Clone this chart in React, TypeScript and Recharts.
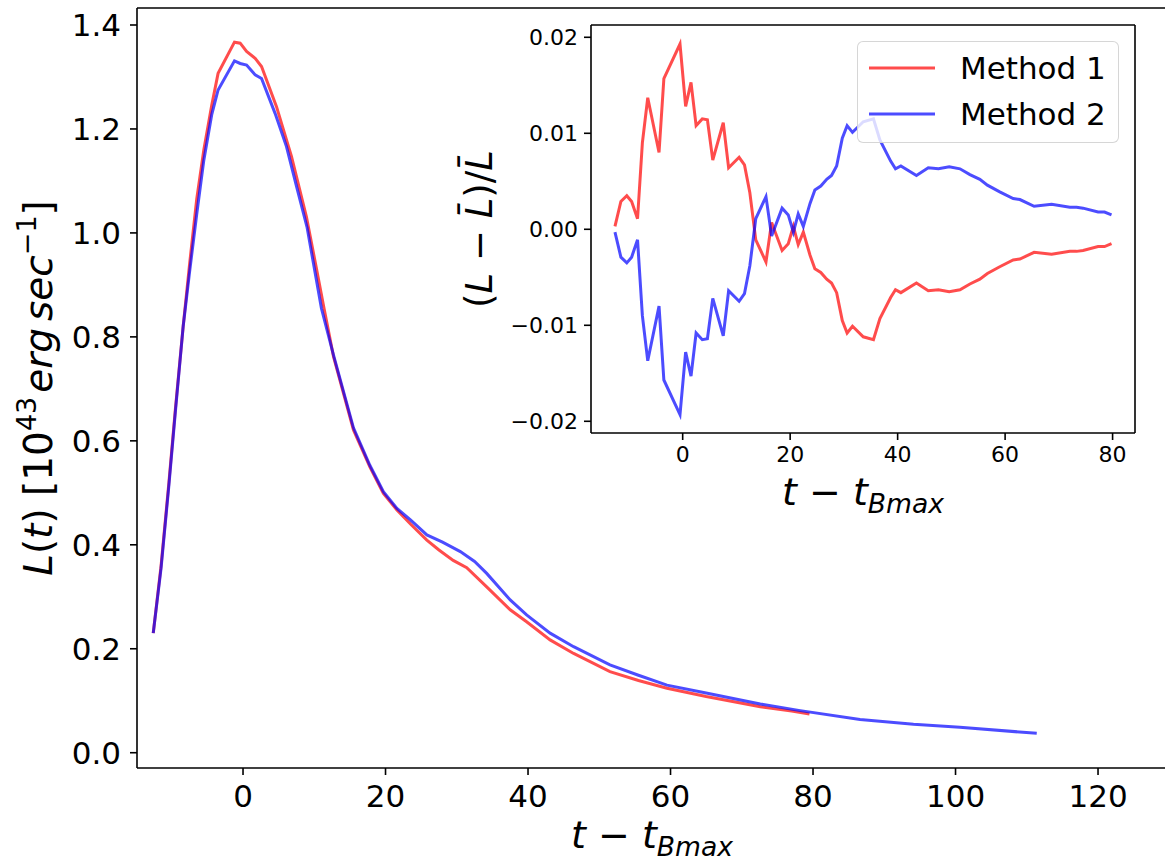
import { LineChart, Line, XAxis, YAxis, Legend, ReferenceLine } from "recharts";

// main panel: luminosity vs days from B max
const M1_T = [-12.6, -11.5, -10.4, -9.5, -8.4, -7.5, -6.5, -5.5, -4.4, -3.5, -1.2, -0.4, 0.5, 1.7, 2.6, 4.7, 6.8, 8.9, 10.3, 11.3, 12.7, 15.5, 17.8, 19.7, 21.6, 23.5, 25.8, 27.5, 29.5, 31.4, 34.2, 37.5, 39.8, 43.1, 46.4, 51.5, 55.5, 59.5, 65, 72.6, 77, 79.5];
const M1_L = [0.23, 0.36, 0.52, 0.66, 0.82, 0.94, 1.065, 1.16, 1.245, 1.307, 1.367, 1.365, 1.349, 1.336, 1.32, 1.243, 1.147, 1.031, 0.932, 0.86, 0.762, 0.621, 0.55, 0.499, 0.467, 0.44, 0.409, 0.39, 0.37, 0.356, 0.319, 0.275, 0.252, 0.217, 0.191, 0.156, 0.139, 0.124, 0.108, 0.0885, 0.08, 0.0745];

const M2_T = [-12.6, -11.5, -10.4, -9.5, -8.4, -7.5, -6.5, -5.5, -4.4, -3.5, -1.2, -0.4, 0.5, 1.7, 2.6, 4.5, 6.1, 7.5, 9, 11, 12.7, 15.5, 17.8, 19.7, 21.6, 23.5, 25.8, 28, 30.5, 32.5, 34.2, 37.5, 39.8, 43.1, 46.4, 51.5, 55.5, 59.5, 65, 72.6, 78.2, 86.6, 94.1, 100.6, 111.4];
const M2_L = [0.23, 0.355, 0.515, 0.655, 0.82, 0.925, 1.036, 1.14, 1.227, 1.275, 1.331, 1.326, 1.323, 1.304, 1.297, 1.23, 1.166, 1.09, 1.01, 0.855, 0.765, 0.625, 0.553, 0.502, 0.47, 0.448, 0.419, 0.405, 0.387, 0.368, 0.345, 0.294, 0.265, 0.23, 0.204, 0.169, 0.149, 0.13, 0.115, 0.0937, 0.081, 0.064, 0.0546, 0.0488, 0.0373];

// inset: relative deviation from the mean curve
const INSET_T = [-12.6, -11.5, -10.4, -9.5, -8.4, -7.5, -6.5, -4.4, -3.5, -0.5, 0.55, 1.55, 2.5, 3.65, 4.6, 5.6, 7.55, 8.55, 10.5, 11.5, 12.5, 13.6, 15.5, 16.55, 18.5, 19.65, 20.6, 21.5, 22.45, 23.7, 24.6, 25.7, 26.8, 27.7, 28.65, 29.7, 30.6, 31.6, 33.6, 35.5, 36.7, 38.7, 39.6, 40.6, 43.5, 45.7, 47.6, 49.6, 51.6, 53.45, 55.3, 56.7, 59.0, 61.5, 62.75, 65.4, 68.65, 72.05, 73.3, 74.5, 77.3, 78.5, 79.8];
const INSET_D1 = [0.0003, 0.0029, 0.0035, 0.0029, 0.0011, 0.009, 0.0137, 0.008, 0.0157, 0.0193, 0.0128, 0.0153, 0.0108, 0.0115, 0.0114, 0.0072, 0.0111, 0.0064, 0.0075, 0.0067, 0.0038, -0.0011, -0.0034, 0.0007, -0.0022, -0.0015, 0.0003, -0.0016, -0.0003, -0.0027, -0.0041, -0.0045, -0.0052, -0.0056, -0.0066, -0.0095, -0.0108, -0.0101, -0.0112, -0.0115, -0.0093, -0.0071, -0.0063, -0.0066, -0.0056, -0.0064, -0.0063, -0.0065, -0.0063, -0.0057, -0.0052, -0.0046, -0.0039, -0.0032, -0.0031, -0.0024, -0.0026, -0.0023, -0.0023, -0.0022, -0.0018, -0.0018, -0.0015];
const INSET_D2 = [-0.0003, -0.0029, -0.0035, -0.0029, -0.0011, -0.009, -0.0137, -0.008, -0.0157, -0.0193, -0.0128, -0.0153, -0.0108, -0.0115, -0.0114, -0.0072, -0.0111, -0.0064, -0.0075, -0.0067, -0.0038, 0.0011, 0.0034, -0.0007, 0.0022, 0.0015, -0.0003, 0.0016, 0.0003, 0.0027, 0.0041, 0.0045, 0.0052, 0.0056, 0.0066, 0.0095, 0.0108, 0.0101, 0.0112, 0.0115, 0.0093, 0.0071, 0.0063, 0.0066, 0.0056, 0.0064, 0.0063, 0.0065, 0.0063, 0.0057, 0.0052, 0.0046, 0.0039, 0.0032, 0.0031, 0.0024, 0.0026, 0.0023, 0.0023, 0.0022, 0.0018, 0.0018, 0.0015];

const MAIN_X_TICKS = [0, 20, 40, 60, 80, 100, 120];
const MAIN_Y_TICKS = [0, 0.2, 0.4, 0.6, 0.8, 1.0, 1.2, 1.4];
const INSET_X_TICKS = [0, 20, 40, 60, 80];
const INSET_Y_TICKS = [-0.02, -0.01, 0, 0.01, 0.02];
const SERIES_NAMES = ["Method 1", "Method 2"];

const MAIN_X_DOMAIN = [-14.88, 129.68];
const MAIN_Y_DOMAIN = [-0.0294, 1.4327];
const INSET_X_DOMAIN = [-17.06, 84.17];
const INSET_Y_DOMAIN = [-0.02122, 0.02128];

const zip = (xs: number[], ys: number[]) => xs.map((x, i) => ({ x, y: ys[i] }));
const main1 = zip(M1_T, M1_L);
const main2 = zip(M2_T, M2_L);
const inset1 = zip(INSET_T, INSET_D1);
const inset2 = zip(INSET_T, INSET_D2);

const FONT = "DejaVu Sans";
const RED = "#ff0000";
const BLUE = "#0000ff";
const axisStyle = { stroke: "#000", strokeWidth: 1.6 };
const minus = (s: string) => s.replace("-", "\u2212");

const MainYLabel = (props: any) => {
  const { viewBox } = props;
  const cx = viewBox.x + 52;
  const cy = viewBox.y + viewBox.height / 2;
  return (
    <text transform={`translate(${cx},${cy}) rotate(-90)`} textAnchor="middle" fontFamily={FONT} fontSize={39} fill="#000">
      <tspan fontStyle="italic">L</tspan>
      <tspan>(</tspan>
      <tspan fontStyle="italic">t</tspan>
      <tspan>) [10</tspan>
      <tspan fontSize={27} dy={-16}>43</tspan>
      <tspan fontStyle="italic" dy={16} dx={4}>erg</tspan>
      <tspan fontStyle="italic" dx={7}>sec</tspan>
      <tspan fontSize={27} dy={-16}>{"\u22121"}</tspan>
      <tspan dy={16}>]</tspan>
    </text>
  );
};

const TLabel = ({ viewBox, dyBase, size }: any) => (
  <text x={viewBox.x + viewBox.width / 2} y={viewBox.y + dyBase} textAnchor="middle" fontFamily={FONT} fontSize={size} fill="#000">
    <tspan fontStyle="italic">t</tspan>
    <tspan>{" \u2212 "}</tspan>
    <tspan fontStyle="italic">t</tspan>
    <tspan fontStyle="italic" fontSize={size * 0.7} dy={size * 0.2}>Bmax</tspan>
  </text>
);

const InsetYLabel = (props: any) => {
  const { viewBox } = props;
  const cx = viewBox.x + 52;
  const cy = viewBox.y + viewBox.height / 2;
  return (
    <text transform={`translate(${cx},${cy}) rotate(-90)`} textAnchor="middle" fontFamily={FONT} fontSize={37} fill="#000">
      <tspan>(</tspan>
      <tspan fontStyle="italic">L</tspan>
      <tspan>{" \u2212 "}</tspan>
      <tspan fontStyle="italic">{"L\u0304"}</tspan>
      <tspan>)/</tspan>
      <tspan fontStyle="italic">{"L\u0304"}</tspan>
    </text>
  );
};

const InsetLegend = ({ payload }: any) => (
  <div
    style={{
      width: 262,
      height: 102,
      boxSizing: "border-box",
      border: "1.6px solid rgba(204,204,204,0.8)",
      borderRadius: 6,
      background: "rgba(255,255,255,0.8)",
      position: "relative",
      fontFamily: FONT,
      fontSize: 31,
      color: "#000",
    }}
  >
    {(payload || []).map((p: any, i: number) => (
      <div key={i} style={{ position: "absolute", left: 11, top: 8 + i * 46, height: 36, display: "flex", alignItems: "center" }}>
        <svg width={66} height={4}>
          <line x1={0} y1={2} x2={66} y2={2} stroke={p.color} strokeWidth={3} strokeOpacity={0.7} />
        </svg>
        <span style={{ marginLeft: 25, whiteSpace: "nowrap" }}>{p.value}</span>
      </div>
    ))}
  </div>
);

export default function App() {
  return (
    <div style={{ position: "absolute", left: 0, top: 0, width: 1165, height: 867, overflow: "hidden", background: "#fff" }}>
      <div style={{ position: "absolute", left: 0, top: 0 }}>
        <LineChart width={1170} height={867} margin={{ top: 8, right: 3, bottom: 0, left: 0 }}>
          <XAxis
            type="number"
            dataKey="x"
            domain={MAIN_X_DOMAIN}
            ticks={MAIN_X_TICKS}
            allowDataOverflow
            height={99}
            tickSize={7}
            tickMargin={10}
            axisLine={axisStyle}
            tickLine={axisStyle}
            tick={{ fontSize: 31, fill: "#000", fontFamily: FONT }}
            label={(p: any) => <TLabel {...p} dyBase={80} size={38} />}
          />
          <YAxis
            type="number"
            domain={MAIN_Y_DOMAIN}
            ticks={MAIN_Y_TICKS}
            allowDataOverflow
            width={137}
            tickSize={7}
            tickMargin={9}
            axisLine={axisStyle}
            tickLine={axisStyle}
            tickFormatter={(v: number) => v.toFixed(1)}
            tick={{ fontSize: 31, fill: "#000", fontFamily: FONT }}
            label={<MainYLabel />}
          />
          <ReferenceLine y={MAIN_Y_DOMAIN[1]} stroke="#000" strokeWidth={1.6} ifOverflow="visible" />
          <Line data={main1} dataKey="y" name={SERIES_NAMES[0]} type="linear" stroke={RED} strokeOpacity={0.7} strokeWidth={3} dot={false} activeDot={false} isAnimationActive={false} />
          <Line data={main2} dataKey="y" name={SERIES_NAMES[1]} type="linear" stroke={BLUE} strokeOpacity={0.7} strokeWidth={3} dot={false} activeDot={false} isAnimationActive={false} />
        </LineChart>
      </div>

      <div style={{ position: "absolute", left: 440, top: 0 }}>
        <LineChart width={725} height={520} margin={{ top: 25, right: 30, bottom: 0, left: 0 }}>
          <XAxis
            type="number"
            dataKey="x"
            domain={INSET_X_DOMAIN}
            ticks={INSET_X_TICKS}
            allowDataOverflow
            height={87}
            tickSize={7}
            tickMargin={6}
            axisLine={axisStyle}
            tickLine={axisStyle}
            tick={{ fontSize: 22, fill: "#000", fontFamily: FONT }}
            label={(p: any) => <TLabel {...p} dyBase={72} size={38} />}
          />
          <YAxis
            type="number"
            domain={INSET_Y_DOMAIN}
            ticks={INSET_Y_TICKS}
            allowDataOverflow
            width={151}
            tickSize={7}
            tickMargin={6}
            axisLine={axisStyle}
            tickLine={axisStyle}
            tickFormatter={(v: number) => minus(v.toFixed(2))}
            tick={{ fontSize: 22, fill: "#000", fontFamily: FONT }}
            label={<InsetYLabel />}
          />
          <ReferenceLine y={INSET_Y_DOMAIN[1]} stroke="#000" strokeWidth={1.6} ifOverflow="visible" />
          <ReferenceLine x={INSET_X_DOMAIN[1]} stroke="#000" strokeWidth={1.6} ifOverflow="visible" />
          <Line data={inset1} dataKey="y" name={SERIES_NAMES[0]} type="linear" stroke={RED} strokeOpacity={0.7} strokeWidth={3} dot={false} activeDot={false} isAnimationActive={false} />
          <Line data={inset2} dataKey="y" name={SERIES_NAMES[1]} type="linear" stroke={BLUE} strokeOpacity={0.7} strokeWidth={3} dot={false} activeDot={false} isAnimationActive={false} />
          <Legend
            layout="vertical"
            align="center"
            verticalAlign="middle"
            wrapperStyle={{ left: 417, top: 41, width: 262 }}
            content={<InsetLegend />}
          />
        </LineChart>
      </div>
    </div>
  );
}
